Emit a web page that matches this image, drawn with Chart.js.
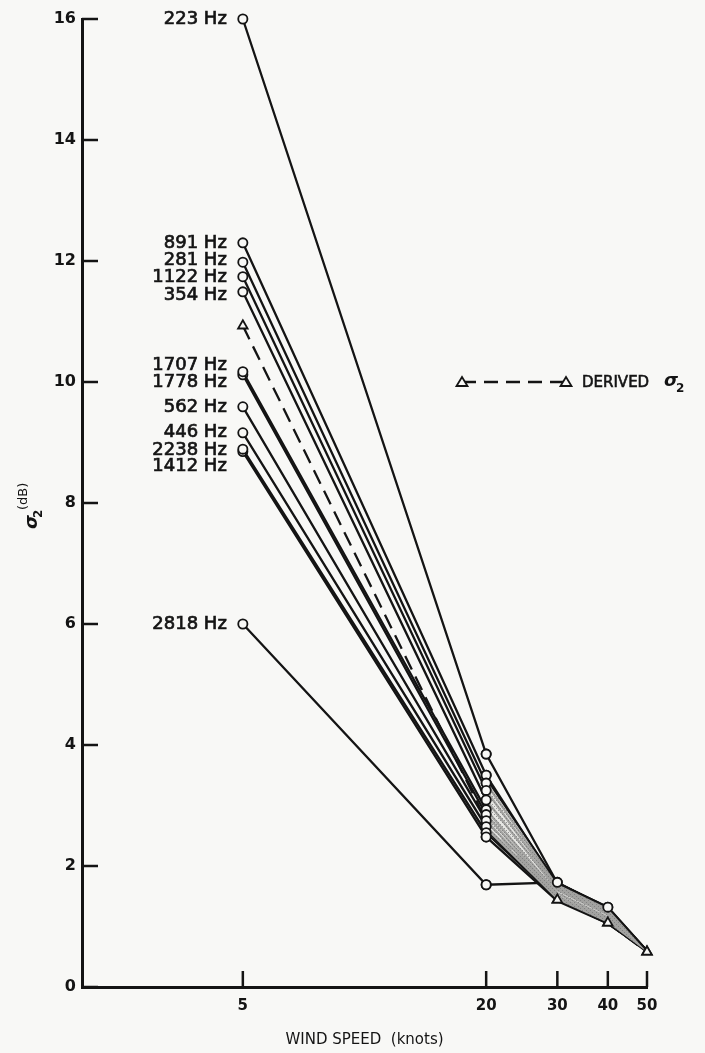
<!DOCTYPE html>
<html>
<head>
<meta charset="utf-8">
<script src="https://cdn.jsdelivr.net/npm/chart.js@4.4.1/dist/chart.umd.min.js"></script>
<style>
  html, body { margin: 0; padding: 0; background: #f8f8f6; }
  #wrap { width: 705px; height: 1053px; }
</style>
</head>
<body>
<div id="wrap"><canvas id="sigmaChart" width="705" height="1053"></canvas></div>
<script>
// === DATA ===
const windSpeeds = [5, 20, 30, 40, 50];
const xTickValues = [5, 20, 30, 40, 50];
const yTickValues = [0, 2, 4, 6, 8, 10, 12, 14, 16];

const hz223  = [16.0, 3.85, 1.72, 1.32, 0.60];
const hz891  = [12.3, 3.50, 1.68, 1.28, 0.60];
const hz281  = [11.98, 3.37, 1.65, 1.25, 0.60];
const hz1122 = [11.74, 3.25, 1.62, 1.22, 0.60];
const hz354  = [11.49, 3.09, 1.60, 1.20, 0.60];
const hz1707 = [10.17, 2.93, 1.55, 1.15, 0.60];
const hz1778 = [10.12, 2.85, 1.50, 1.12, 0.60];
const hz562  = [9.59, 2.75, 1.50, 1.10, 0.60];
const hz446  = [9.16, 2.65, 1.48, 1.10, 0.60];
const hz2238 = [8.89, 2.55, 1.45, 1.05, 0.60];
const hz1412 = [8.85, 2.48, 1.42, 1.05, 0.60];
const hz2818 = [6.0, 1.69, 1.73, 1.30, 0.60];
const derivedSigma = [10.93, 2.75, 1.44, 1.06, 0.58];

// shaded band between 20 and 50 knots
const bandTop    = [null, 3.45, 1.72, 1.32, 0.60];
const bandBottom = [null, 2.6, 1.44, 1.06, 0.58];

const series = [
  { label: '223 Hz',  data: hz223,  nudge: 0 },
  { label: '891 Hz',  data: hz891,  nudge: 0 },
  { label: '281 Hz',  data: hz281,  nudge: -2 },
  { label: '1122 Hz', data: hz1122, nudge: 1 },
  { label: '354 Hz',  data: hz354,  nudge: 3 },
  { label: '1707 Hz', data: hz1707, nudge: -6 },
  { label: '1778 Hz', data: hz1778, nudge: 8 },
  { label: '562 Hz',  data: hz562,  nudge: 1 },
  { label: '446 Hz',  data: hz446,  nudge: 0 },
  { label: '2238 Hz', data: hz2238, nudge: 1 },
  { label: '1412 Hz', data: hz1412, nudge: 15 },
  { label: '2818 Hz', data: hz2818, nudge: 0 }
];

// which points get an open circle (index into windSpeeds)
const markedPoints = {
  '223 Hz': [0, 1, 3],
  '2818 Hz': [0, 1, 2]
};

const INK = '#141414';
const PAPER = '#f8f8f6';

const toPoints = (arr) => arr.map((v, i) => ({ x: windSpeeds[i], y: v }));

// === STIPPLE PATTERN ===
function stipple() {
  const c = document.createElement('canvas');
  c.width = 4; c.height = 4;
  const g = c.getContext('2d');
  g.fillStyle = 'rgba(222,222,220,0.7)';
  g.fillRect(0, 0, 4, 4);
  g.fillStyle = 'rgba(120,120,120,0.75)';
  g.fillRect(0, 0, 1, 1);
  g.fillRect(2, 2, 1, 1);
  return document.getElementById('sigmaChart').getContext('2d').createPattern(c, 'repeat');
}

// === DATASETS ===
const datasets = series.map((s) => ({
  label: s.label,
  data: toPoints(s.data),
  borderColor: INK,
  borderWidth: 2.3,
  pointBackgroundColor: PAPER,
  pointBorderColor: INK,
  pointBorderWidth: 1.8,
  pointRadius: (ctx) => {
    const marks = markedPoints[s.label] || [0, 1];
    return marks.includes(ctx.dataIndex) ? 4.6 : 0;
  },
  tension: 0,
  clip: false,
  fill: false
}));

datasets.push({
  label: 'DERIVED',
  data: toPoints(derivedSigma),
  borderColor: INK,
  borderWidth: 2.3,
  borderDash: [15, 8],
  pointStyle: 'triangle',
  pointRadius: 5.5,
  pointBackgroundColor: PAPER,
  pointBorderColor: INK,
  pointBorderWidth: 1.8,
  clip: false,
  fill: false
});

// band drawn on top of the bundle (lower order = drawn later)
datasets.push({
  label: 'bandTop',
  data: toPoints(bandTop),
  borderColor: INK,
  borderWidth: 2,
  pointRadius: 0,
  backgroundColor: stipple(),
  fill: '+1',
  order: -1
});
datasets.push({
  label: 'bandBottom',
  data: toPoints(bandBottom),
  borderColor: INK,
  borderWidth: 2,
  pointRadius: 0,
  fill: false,
  order: -1
});

// === DECORATIONS: inner ticks, labels, legend, y title ===
const decorations = {
  id: 'decorations',
  afterDatasetsDraw(chart) {
    const { ctx, scales } = chart;
    const x = scales.x, y = scales.y;
    ctx.save();
    ctx.strokeStyle = INK;
    ctx.lineWidth = 2.5;
    yTickValues.forEach((v) => {
      const py = y.getPixelForValue(v);
      ctx.beginPath();
      ctx.moveTo(x.left, py);
      ctx.lineTo(x.left + 16, py);
      ctx.stroke();
    });
    xTickValues.forEach((v) => {
      const px = x.getPixelForValue(v);
      ctx.beginPath();
      ctx.moveTo(px, y.bottom);
      ctx.lineTo(px, y.bottom - 16);
      ctx.stroke();
    });

    // redraw the triangles at 30-50 over the band
    const dMeta = chart.getDatasetMeta(series.length);
    dMeta.data.forEach((pt, i) => {
      if (i < 2) return;
      pt.draw(ctx);
    });
    // and the circles at 20, 30, 40
    series.forEach((s, si) => {
      const meta = chart.getDatasetMeta(si);
      const marks = markedPoints[s.label] || [0, 1];
      meta.data.forEach((pt, i) => {
        if (i > 0 && marks.includes(i)) pt.draw(ctx);
      });
    });

    // frequency labels
    ctx.fillStyle = INK;
    ctx.strokeStyle = INK;
    ctx.font = '18px "DejaVu Sans"';
    ctx.textAlign = 'right';
    ctx.textBaseline = 'middle';
    ctx.lineWidth = 0.7;
    series.forEach((s) => {
      const px = x.getPixelForValue(windSpeeds[0]) - 16;
      const py = y.getPixelForValue(s.data[0]) + s.nudge;
      ctx.fillText(s.label, px, py);
      ctx.strokeText(s.label, px, py);
    });

    // legend
    const ly = 382, lx0 = 462, lx1 = 566;
    ctx.lineWidth = 2.3;
    ctx.setLineDash([14, 8]);
    ctx.beginPath();
    ctx.moveTo(lx0, ly);
    ctx.lineTo(lx1, ly);
    ctx.stroke();
    ctx.setLineDash([]);
    [lx0, lx1].forEach((tx) => {
      ctx.beginPath();
      ctx.moveTo(tx, ly - 5);
      ctx.lineTo(tx + 5.5, ly + 4);
      ctx.lineTo(tx - 5.5, ly + 4);
      ctx.closePath();
      ctx.fillStyle = PAPER;
      ctx.fill();
      ctx.lineWidth = 1.8;
      ctx.stroke();
    });
    ctx.fillStyle = INK;
    ctx.textAlign = 'left';
    ctx.font = '15px "DejaVu Sans"';
    ctx.lineWidth = 0.6;
    ctx.fillText('DERIVED', 582, ly + 1);
    ctx.strokeText('DERIVED', 582, ly + 1);
    ctx.font = 'italic bold 18px "DejaVu Sans"';
    ctx.fillText('σ', 664, ly - 1);
    ctx.font = 'bold 12px "DejaVu Sans"';
    ctx.fillText('2', 676, ly + 7);

    // y title
    ctx.translate(32, 503);
    ctx.rotate(-Math.PI / 2);
    ctx.textAlign = 'left';
    ctx.font = 'italic bold 18px "DejaVu Sans"';
    ctx.fillText('σ', -26, 0);
    ctx.font = 'bold 12px "DejaVu Sans"';
    ctx.fillText('2', -15, 7);
    ctx.font = '13px "DejaVu Sans"';
    ctx.fillText('(dB)', -7, -8);
    ctx.restore();
  }
};

// === CHART ===
new Chart(document.getElementById('sigmaChart'), {
  type: 'line',
  data: { datasets },
  options: {
    responsive: false,
    animation: false,
    events: [],
    layout: { padding: { top: 19, right: 58, left: 0, bottom: 0 } },
    plugins: {
      legend: { display: false },
      tooltip: { enabled: false }
    },
    scales: {
      x: {
        type: 'logarithmic',
        min: 2,
        max: 50,
        grid: { display: false, drawTicks: false },
        border: { display: true, color: INK, width: 3 },
        afterBuildTicks: (scale) => { scale.ticks = xTickValues.map((v) => ({ value: v })); },
        afterFit: (scale) => { scale.height = 66; },
        ticks: {
          color: INK,
          padding: 10,
          autoSkip: false,
          maxRotation: 0,
          font: { family: 'DejaVu Sans', size: 15, weight: 'bold' },
          callback: (v) => String(v)
        },
        title: {
          display: true,
          text: 'WIND SPEED  (knots)',
          color: INK,
          padding: { top: 6 },
          font: { family: 'DejaVu Sans', size: 15 }
        }
      },
      y: {
        min: 0,
        max: 16,
        grid: { display: false, drawTicks: false },
        border: { display: true, color: INK, width: 3 },
        afterBuildTicks: (scale) => { scale.ticks = yTickValues.map((v) => ({ value: v })); },
        afterFit: (scale) => { scale.width = 82; },
        ticks: {
          color: INK,
          padding: 6,
          font: { family: 'DejaVu Sans', size: 16, weight: 'bold' }
        }
      }
    }
  },
  plugins: [decorations]
});
</script>
</body>
</html>
